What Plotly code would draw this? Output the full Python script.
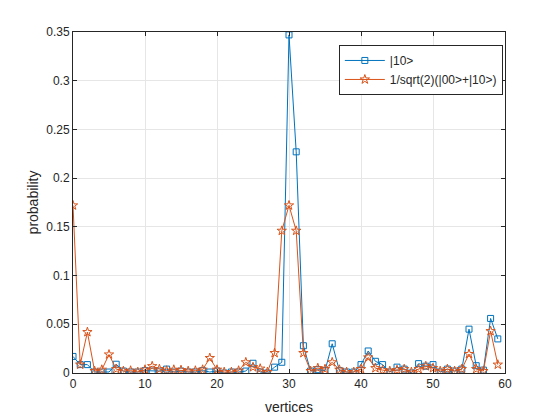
import plotly.graph_objects as go

# vertex index 0..59
vertices = list(range(60))

# probability for the |10> start state
prob_10 = [0.017, 0.0086, 0.0086, 0.001, 0.001, 0.001, 0.009, 0.002, 0.001, 0.001,
           0.0024, 0.002, 0.002, 0.004, 0.001, 0.002, 0.001, 0.001, 0.0024, 0.001,
           0.002, 0.0, 0.001, 0.001, 0.002, 0.010, 0.001, 0.0, 0.006, 0.011,
           0.347, 0.227, 0.028, 0.002, 0.0034, 0.0024, 0.030, 0.0024, 0.001, 0.001,
           0.0086, 0.0226, 0.012, 0.0086, 0.001, 0.006, 0.004, 0.0, 0.0096, 0.007,
           0.0086, 0.001, 0.004, 0.002, 0.004, 0.045, 0.0075, 0.003, 0.056, 0.035]

# probability for the superposition start state
prob_sup = [0.172, 0.0086, 0.042, 0.002, 0.0034, 0.019, 0.004, 0.002, 0.0024, 0.001,
            0.0034, 0.007, 0.004, 0.0024, 0.0034, 0.003, 0.002, 0.0024, 0.0034, 0.0154,
            0.0034, 0.001, 0.001, 0.0024, 0.011, 0.006, 0.0045, 0.001, 0.0205, 0.146,
            0.172, 0.146, 0.0205, 0.002, 0.005, 0.004, 0.011, 0.0034, 0.001, 0.001,
            0.004, 0.016, 0.005, 0.003, 0.002, 0.003, 0.004, 0.001, 0.004, 0.007,
            0.005, 0.002, 0.004, 0.002, 0.004, 0.0195, 0.004, 0.002, 0.043, 0.0086]

x_ticks = [0, 10, 20, 30, 40, 50, 60]
y_ticks = [0, 0.05, 0.1, 0.15, 0.2, 0.25, 0.3, 0.35]
y_labels = ["0", "0.05", "0.1", "0.15", "0.2", "0.25", "0.3", "0.35"]

fig = go.Figure()
fig.add_trace(go.Scatter(
    x=vertices, y=prob_10, mode="lines+markers", name="|10>",
    line=dict(color="#0072BD", width=1),
    marker=dict(symbol="square-open", size=6, color="#0072BD", line=dict(width=1)),
))
fig.add_trace(go.Scatter(
    x=vertices, y=prob_sup, mode="lines+markers", name="1/sqrt(2)(|00>+|10>)",
    line=dict(color="#D95319", width=1),
    marker=dict(symbol="star-open", size=7, color="#D95319", line=dict(width=1)),
))

axis_style = dict(
    showgrid=True, gridcolor="#e6e6e6", gridwidth=1,
    showline=True, linecolor="#262626", linewidth=1, mirror="ticks",
    ticks="inside", ticklen=4, tickcolor="#262626",
    zeroline=False, automargin=False,
    tickfont=dict(family="Liberation Sans, Arial", size=12, color="#262626"),
)

fig.update_xaxes(range=[0, 60], tickvals=x_ticks, **axis_style,
                 title=dict(text="vertices", standoff=11,
                            font=dict(family="Liberation Sans, Arial", size=14, color="#262626")))
fig.update_yaxes(range=[0, 0.35], tickvals=y_ticks, ticktext=y_labels, **axis_style,
                 title=dict(text="probability", standoff=4,
                            font=dict(family="Liberation Sans, Arial", size=14, color="#262626")))

# the page body adds an 8px offset, so margins are shifted to land the axes where MATLAB put them
fig.update_layout(
    width=560, height=420,
    margin=dict(l=65, r=63, t=24, b=55),
    paper_bgcolor="white", plot_bgcolor="white",
    legend=dict(
        x=0.995, y=0.962, xanchor="right", yanchor="top",
        bgcolor="white", bordercolor="#262626", borderwidth=1,
        font=dict(family="Liberation Sans, Arial", size=12, color="#262626"),
        tracegroupgap=0, itemwidth=40,
    ),
    showlegend=True,
)

fig.write_html("out.html")
